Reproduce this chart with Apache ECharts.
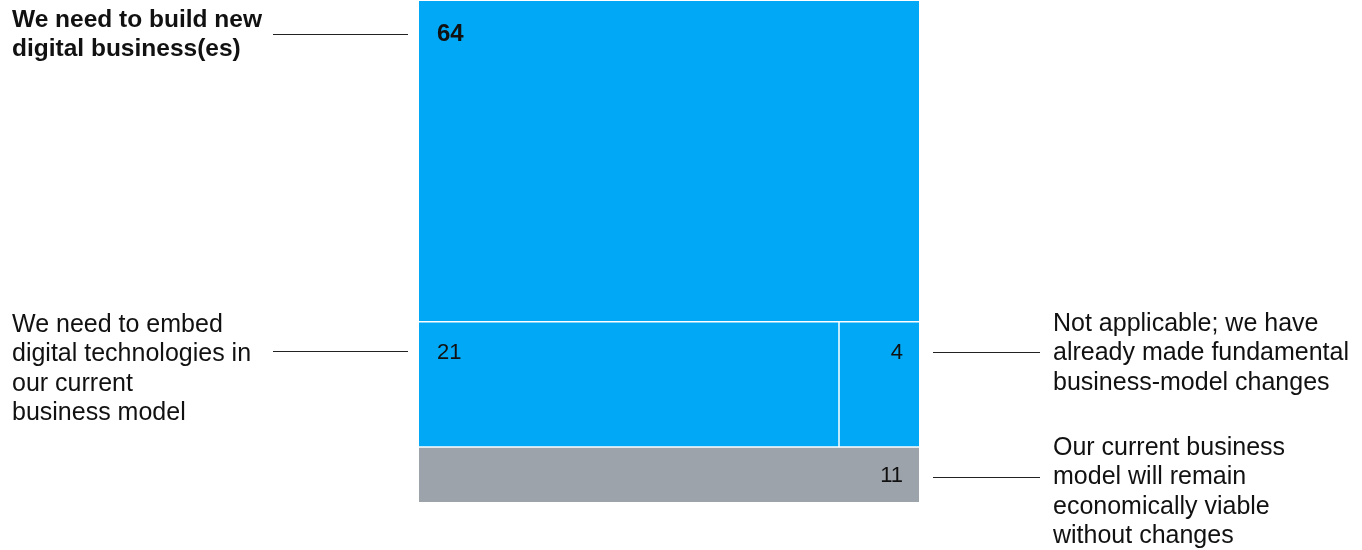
<!DOCTYPE html>
<html>
<head>
<meta charset="utf-8">
<title>Business-model response to digitization</title>
<script src="https://cdn.jsdelivr.net/npm/echarts@6/dist/echarts.min.js"></script>
<style>
  html, body { margin: 0; padding: 0; background: #fff; }
  #chart { width: 1362px; height: 550px; }
</style>
</head>
<body>
<div id="chart"></div>
<script>
// Share of respondents (%) by expected business-model response
const categories = [
  'We need to build new\ndigital business(es)',
  'We need to embed\ndigital technologies in\nour current\nbusiness model',
  'Not applicable; we have\nalready made fundamental\nbusiness-model changes',
  'Our current business\nmodel will remain\neconomically viable\nwithout changes'
];
const values = [64, 21, 4, 11];
// Which horizontal band of the block each category sits in (top to bottom)
const bands = [0, 1, 1, 2];

// Presentation settings
const FONT = '"Liberation Sans", Arial, Helvetica, sans-serif';
const BLUE = '#00A8F5';
const GREY = '#9CA3AB';
const INK = '#111111';
const fills = [BLUE, BLUE, BLUE, GREY];
const labelSide = ['left', 'left', 'right', 'right'];
const emphasis = [true, false, false, false];
const leaderNudge = [2, -2, -1, 1];
const textNudge = [0, 1, -1, -2];

// Turn the values into rectangles on a 100 x 100 plane:
// each band is as tall as its total, members split the width by value.
function buildRects() {
  const out = [];
  const nBands = Math.max.apply(null, bands) + 1;
  let y = 0;
  for (let b = 0; b < nBands; b++) {
    const members = [];
    bands.forEach((band, i) => { if (band === b) members.push(i); });
    const total = members.reduce((s, i) => s + values[i], 0);
    let x = 0;
    members.forEach(i => {
      const w = values[i] / total * 100;
      out.push([x, x + w, y, y + total, values[i], i]);
      x += w;
    });
    y += total;
  }
  return out;
}
const rects = buildRects();

function renderItem(params, api) {
  const x0 = api.value(0), x1 = api.value(1), y0 = api.value(2), y1 = api.value(3);
  const val = api.value(4), idx = api.value(5);
  const a = api.coord([x0, y0]);
  const b = api.coord([x1, y1]);
  const gap = 0.75;
  const left = a[0] + (x0 > 0 ? gap : 0);
  const right = b[0] - (x1 < 100 ? gap : 0);
  const top = a[1] + (y0 > 0 ? gap : 0);
  const bottom = b[1] - (y1 < 100 ? gap : 0);
  const h = bottom - top;

  const boxLeft = api.coord([0, 0])[0];
  const boxRight = api.coord([100, 0])[0];

  const side = labelSide[idx];
  const bold = emphasis[idx];
  const valueY = top + Math.min(31, h / 2 + 1);
  const leaderY = Math.round(valueY + leaderNudge[idx]) + 0.5;

  const children = [
    {
      type: 'rect',
      shape: { x: left, y: top, width: right - left, height: h },
      style: { fill: fills[idx] }
    },
    {
      type: 'text',
      x: side === 'left' ? left + 18 : right - 16,
      y: valueY + (bold ? 2 : 0),
      style: {
        text: String(val),
        fill: INK,
        fontSize: bold ? 24 : 22,
        fontWeight: bold ? 'bold' : 'normal',
        fontFamily: FONT,
        align: side === 'left' ? 'left' : 'right',
        verticalAlign: 'middle'
      }
    }
  ];

  // Leader line from the block to the category label
  const lx0 = side === 'left' ? boxLeft - 146 : boxRight + 14;
  const lx1 = side === 'left' ? boxLeft - 11 : boxRight + 121;
  children.push({
    type: 'line',
    shape: { x1: lx0, y1: leaderY, x2: lx1, y2: leaderY },
    style: { stroke: '#222', lineWidth: 1.2 }
  });

  const lh = bold ? 29 : 29.3;
  const textTop = (bold ? leaderY - 29 : leaderY - 42) + textNudge[idx];
  children.push({
    type: 'text',
    x: side === 'left' ? 12 : boxRight + 134,
    y: textTop,
    style: {
      text: categories[idx],
      fill: INK,
      fontSize: bold ? 24.5 : 25,
      fontWeight: bold ? 'bold' : 'normal',
      fontFamily: FONT,
      lineHeight: lh,
      align: 'left',
      verticalAlign: 'top'
    }
  });

  return { type: 'group', children: children };
}

const chart = echarts.init(document.getElementById('chart'), null, { renderer: 'canvas' });
chart.setOption({
  backgroundColor: '#ffffff',
  animation: false,
  grid: { left: 419, top: 1, width: 500, height: 501 },
  xAxis: { type: 'value', min: 0, max: 100, show: false },
  yAxis: { type: 'value', min: 0, max: 100, inverse: true, show: false },
  series: [{
    type: 'custom',
    clip: false,
    renderItem: renderItem,
    encode: { x: [0, 1], y: [2, 3] },
    data: rects
  }]
});
</script>
</body>
</html>
